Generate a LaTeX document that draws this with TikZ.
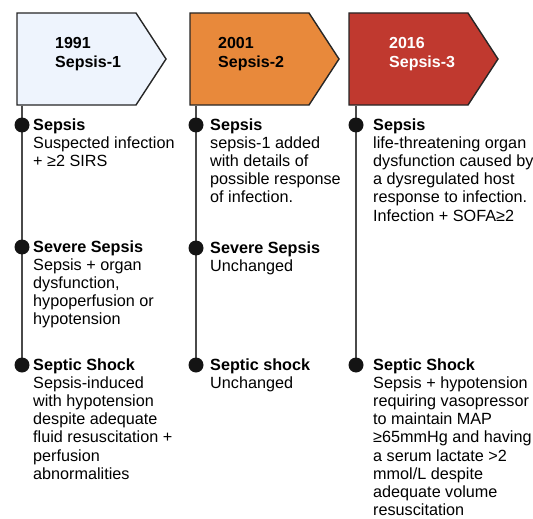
\documentclass[tikz,border=0pt]{standalone}
\usepackage{fontspec}
\setmainfont{Liberation Sans}
\usetikzlibrary{backgrounds}
\definecolor{boxA}{HTML}{EEF4FD}
\definecolor{boxB}{HTML}{E8893B}
\definecolor{boxC}{HTML}{C0392F}
\definecolor{edge}{HTML}{262626}
\definecolor{tline}{HTML}{4A4A4A}
\definecolor{dotc}{HTML}{141414}
\tikzset{
  era/.style={draw=edge, line width=1.4pt, line join=miter},
  eratext/.style={anchor=base west, align=left, inner sep=0pt, font=\fontsize{16}{19.5}\selectfont\bfseries},
  tl/.style={draw=tline, line width=2pt},
  dotnode/.style={circle, fill=dotc, minimum size=15pt, inner sep=0pt},
  desc/.style={anchor=base west, align=left, inner sep=0pt, font=\fontsize{16.2}{18.1}\selectfont}
}
\begin{document}
\begin{tikzpicture}[x=1pt,y=-1pt]
\useasboundingbox (0,0) rectangle (533,519);
% era boxes
\draw[era, fill=boxA] (17,13) -- (136,13) -- (166,59) -- (136,105) -- (17,105) -- cycle;
\draw[era, fill=boxB] (190,13) -- (309,13) -- (339,59) -- (309,105) -- (190,105) -- cycle;
\draw[era, fill=boxC] (349,13) -- (468,13) -- (498,59) -- (468,105) -- (349,105) -- cycle;
% base anchor = baseline of last line
\node[eratext] (e1) at (55,67.5) {1991\\Sepsis-1};
\node[eratext] (e2) at (218,67.5) {2001\\Sepsis-2};
\node[eratext, text=white] (e3) at (389,67.5) {2016\\Sepsis-3};
\coordinate (b1) at (22,105.7);
\coordinate (b2) at (196,105.7);
\coordinate (b3) at (356,105.7);
% dots
\node[dotnode] (d1a) at (22,125) {};
\node[dotnode] (d1b) at (22,247) {};
\node[dotnode] (d1c) at (22,365) {};
\node[dotnode] (d2a) at (196,125) {};
\node[dotnode] (d2b) at (196,248) {};
\node[dotnode] (d2c) at (196,365) {};
\node[dotnode] (d3a) at (356,125) {};
\node[dotnode] (d3c) at (356,365) {};
\begin{pgfonlayer}{background}
\draw[tl] (b1) -- (d1c.center);
\draw[tl] (b2) -- (d2c.center);
\draw[tl] (b3) -- (d3c.center);
\end{pgfonlayer}
% texts (anchored at the baseline of their last line)
\node[desc] (t1a) at (33,{130.5+2*18.1}) {\textbf{Sepsis}\\Suspected infection\\+ ≥2 SIRS};
\node[desc] (t1b) at (33,{252.5+4*18.1}) {\textbf{Severe Sepsis}\\Sepsis + organ\\dysfunction,\\hypoperfusion or\\hypotension};
\node[desc] (t1c) at (33,{370.5+6*18.1}) {\textbf{Septic Shock}\\Sepsis-induced\\with hypotension\\despite adequate\\fluid resuscitation +\\perfusion\\abnormalities};
\node[desc] (t2a) at (210,{130.5+4*18.1}) {\textbf{Sepsis}\\sepsis-1 added\\with details of\\possible response\\of infection.};
\node[desc] (t2b) at (210,{253.5+18.1}) {\textbf{Severe Sepsis}\\Unchanged};
\node[desc] (t2c) at (210,{370.5+18.1}) {\textbf{Septic shock}\\Unchanged};
\node[desc] (t3a) at (373,{130.5+5*18.1}) {\textbf{Sepsis}\\life-threatening organ\\dysfunction caused by\\a dysregulated host\\response to infection.\\Infection + SOFA≥2};
\node[desc] (t3c) at (373,{370.5+8*18.1}) {\textbf{Septic Shock}\\Sepsis + hypotension\\requiring vasopressor\\to maintain MAP\\≥65mmHg and having\\a serum lactate >2\\mmol/L despite\\adequate volume\\resuscitation};
\end{tikzpicture}
\end{document}
